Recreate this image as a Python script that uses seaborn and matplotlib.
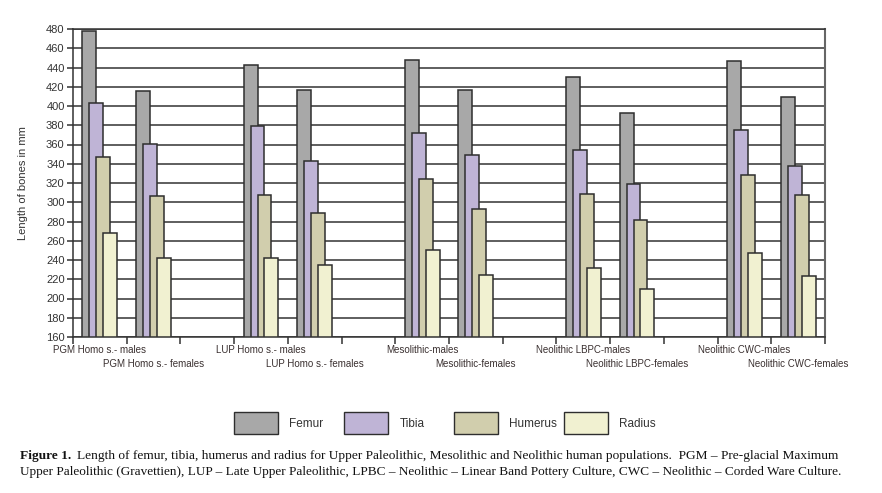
import matplotlib
matplotlib.use("Agg")
import matplotlib.pyplot as plt
from matplotlib.patches import Patch
import seaborn as sns
import pandas as pd
import numpy as np

# ---- data ----
groups = ["PGM Homo s.- males", "PGM Homo s.- females",
          "LUP Homo s.- males", "LUP Homo s.- females",
          "Mesolithic-males", "Mesolithic-females",
          "Neolithic LBPC-males", "Neolithic LBPC-females",
          "Neolithic CWC-males", "Neolithic CWC-females"]
bones = ["Femur", "Tibia", "Humerus", "Radius"]
femur   = [478, 416, 443, 417, 448, 417, 430, 393, 447, 409]
tibia   = [403, 361, 379, 343, 372, 349, 354, 319, 375, 338]
humerus = [347, 306, 308, 289, 324, 293, 309, 282, 328, 308]
radius  = [268, 242, 242, 235, 250, 224, 232, 210, 247, 223]
values = [femur, tibia, humerus, radius]
colors = ["#a8a8a8", "#bfb4d6", "#d1cead", "#f1f1d1"]
yticks = list(range(160, 481, 20))

sns.set_theme(style="white")
plt.rcParams['font.family'] = ['Liberation Sans', 'DejaVu Sans']

W, H = 882, 493
fig = plt.figure(figsize=(W / 100, H / 100), dpi=100)
ax = fig.add_axes([73 / W, 1 - 337 / H, (825 - 73) / W, (337 - 29) / H])

# slot layout: two groups, then one empty slot
slots = np.array([(i // 2) * 3 + (i % 2) for i in range(len(groups))])
offsets = [-0.195, -0.065, 0.065, 0.195]

for b, vals, col, off in zip(bones, values, colors, offsets):
    df = pd.DataFrame({"pos": slots + off, "length": vals})
    sns.barplot(data=df, x="pos", y="length", native_scale=True, width=0.26,
                color=col, saturation=1, edgecolor="#2e2e2e", linewidth=1.1,
                errorbar=None, ax=ax)

nslots = 14
ax.set_xlim(-0.5, nslots - 0.5)
ax.set_ylim(160, 480)
ax.set_axisbelow(True)
ax.set_yticks(yticks)
ax.set_yticklabels([str(v) for v in yticks], fontsize=8, color="#333333")
ax.yaxis.grid(True, color="#333333", linewidth=1.1)
ax.xaxis.grid(False)

male_idx = [i for i in range(len(groups)) if i % 2 == 0]
fem_idx = [i for i in range(len(groups)) if i % 2 == 1]
ax.set_xticks(slots[male_idx])
ax.set_xticklabels([groups[i] for i in male_idx], fontsize=7, color="#3a3030")
ax.tick_params(axis="x", which="major", length=0, pad=6)
ax.set_xticks(np.arange(-0.5, nslots, 1.0), minor=True)
ax.tick_params(axis="x", which="minor", length=5, width=1.1, color="#333333",
               direction="out", bottom=True)
ax.tick_params(axis="y", which="major", length=4, width=1.1, color="#333333",
               direction="out", left=True, pad=2)
ax.set_xlabel("")
ax.set_ylabel("Length of bones in mm", fontsize=8, color="#333333", labelpad=13)

sec = ax.secondary_xaxis("bottom")
sec.set_xticks(slots[fem_idx])
sec.set_xticklabels([groups[i] for i in fem_idx], fontsize=7, color="#3a3030")
sec.tick_params(axis="x", length=0, pad=16)
sec.spines["bottom"].set_visible(False)

for s in ["left", "bottom", "top"]:
    ax.spines[s].set_visible(True)
    ax.spines[s].set_color("#333333")
    ax.spines[s].set_linewidth(1.1)
ax.spines["right"].set_visible(True)
ax.spines["right"].set_color("#666666")
ax.spines["right"].set_linewidth(1.5)

# legend: one entry per bone, evenly spaced
for i, (b, col) in enumerate(zip(bones, colors)):
    h = Patch(facecolor=col, edgecolor="#2e2e2e", linewidth=1.0)
    fig.legend(handles=[h], labels=[b], loc="center left",
               bbox_to_anchor=((234 + i * 110) / W, 1 - 423 / H),
               frameon=False, fontsize=8.5, handlelength=3.7, handleheight=2.4,
               handletextpad=1.0, borderpad=0, borderaxespad=0,
               labelcolor="#333333")

# caption
cap_font = ['Liberation Serif', 'DejaVu Serif']
fig.canvas.draw()
r = fig.canvas.get_renderer()
t1 = fig.text(20 / W, 1 - 456 / H, "Figure 1.", fontsize=9.6, fontweight="bold",
              family=cap_font, va="center", ha="left", color="#111111")
bb = t1.get_window_extent(renderer=r)
fig.text((bb.x1 + 6) / W, 1 - 456 / H,
         "Length of femur, tibia, humerus and radius for Upper Paleolithic, Mesolithic and Neolithic human populations.  PGM \u2013 Pre-glacial Maximum",
         fontsize=9.6, family=cap_font, va="center", ha="left", color="#111111")
fig.text(20 / W, 1 - 472 / H,
         "Upper Paleolithic (Gravettien), LUP \u2013 Late Upper Paleolithic, LPBC \u2013 Neolithic \u2013 Linear Band Pottery Culture, CWC \u2013 Neolithic \u2013 Corded Ware Culture.",
         fontsize=9.5, family=cap_font, va="center", ha="left", color="#111111")

fig.savefig("out.png", dpi=100)
